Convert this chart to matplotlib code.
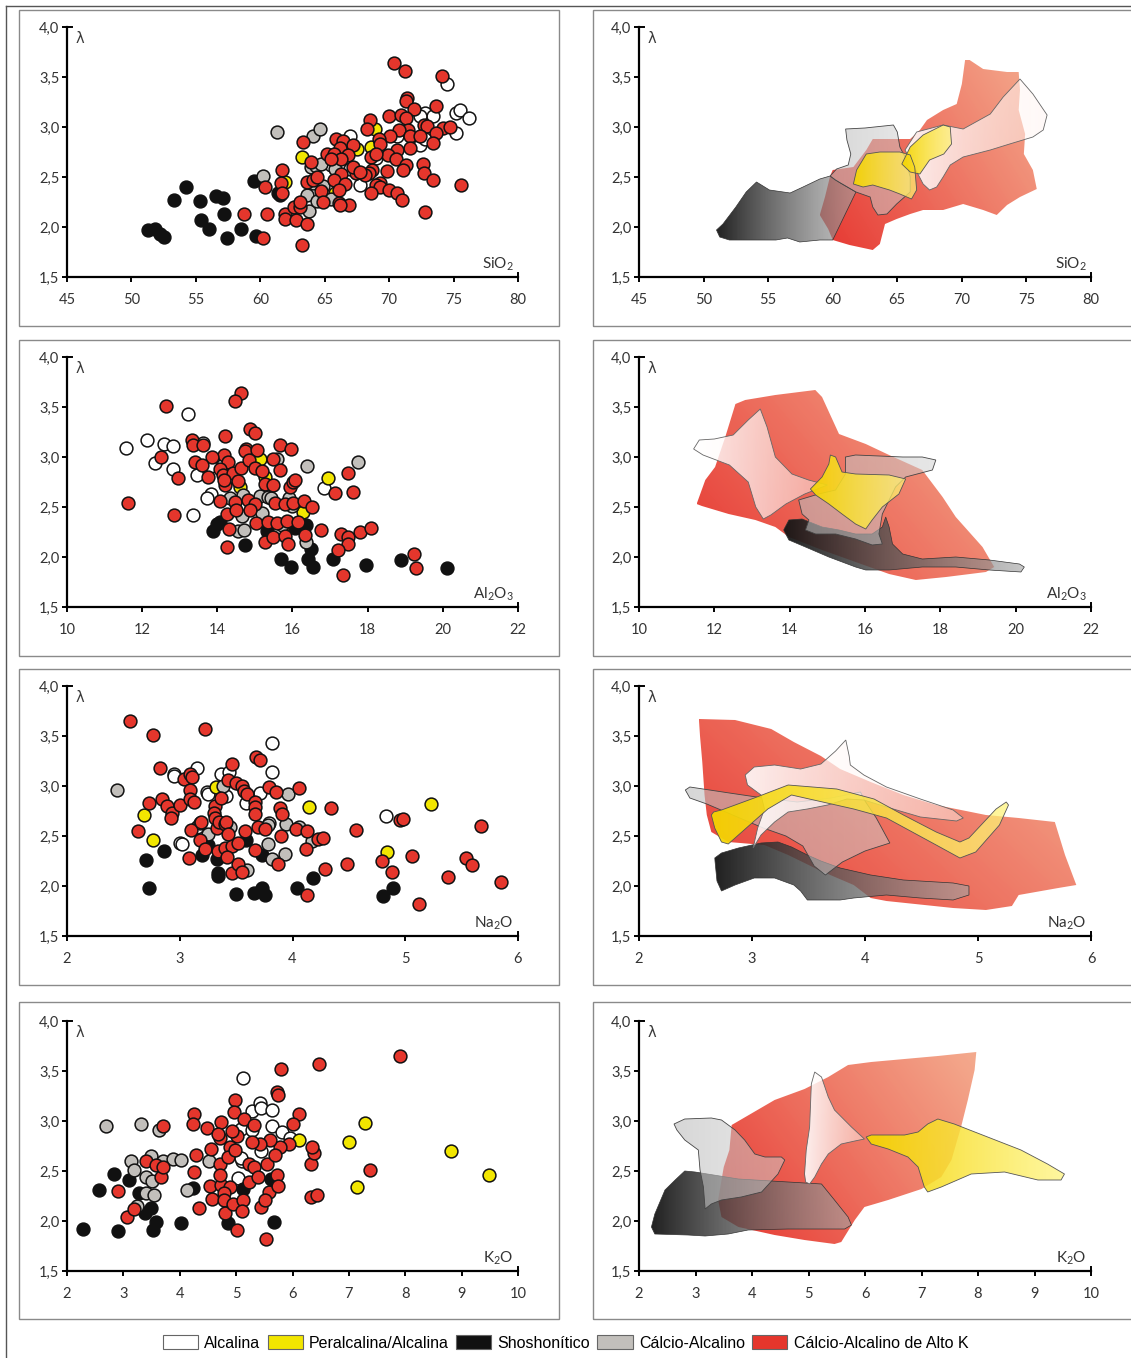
import matplotlib
matplotlib.use("Agg")
import matplotlib.pyplot as plt
import numpy as np
from matplotlib.patches import Polygon, Rectangle, Patch
from matplotlib.lines import Line2D
from matplotlib.colors import to_rgb

plt.rcParams['font.family'] = ['Lato', 'DejaVu Sans']
plt.rcParams['mathtext.default'] = 'regular'

# ---------------- scatter data (x, lambda) ----------------
# SiO2
sio2_alc = [(65.5,2.62),(67.0,2.91),(67.0,2.58),(67.7,2.42),(69.0,2.69),(70.6,2.91),(72.4,2.82),(72.8,3.14),
            (73.4,3.11),(72.8,2.88),(74.5,3.43),(75.2,2.94),(75.2,3.14),(75.5,3.17),(76.2,3.09),(72.4,3.11)]
sio2_per = [(63.2,2.70),(61.9,2.45),(65.8,2.34),(67.5,2.78),(68.6,2.80),(68.9,2.98)]
sio2_sho = [(51.3,1.97),(51.85,1.98),(52.2,1.93),(52.5,1.90),(53.3,2.27),(54.2,2.40),(55.3,2.26),(55.4,2.07),
            (56.0,1.98),(56.6,2.31),(57.1,2.29),(57.2,2.13),(57.4,1.89),(58.5,1.98),(59.5,2.46),(59.7,1.91),
            (61.4,2.34),(61.5,2.32)]
sio2_cal = [(61.3,2.95),(60.2,2.51),(64.1,2.91),(64.6,2.98),(63.9,2.60),(64.3,2.61),(64.1,2.44),(64.7,2.63),
            (64.9,2.41),(63.6,2.32),(63.8,2.16),(64.4,2.26),(65.5,2.28),(65.8,2.58)]
sio2_ak = [(70.4,3.64),(71.2,3.56),(74.1,3.51),(71.4,3.29),(71.3,3.26),(71.9,3.18),(73.6,3.21),(70.0,3.11),
           (70.9,3.12),(68.5,3.07),(71.3,3.09),(72.7,3.02),(72.9,3.01),(74.2,2.99),(74.7,3.00),(71.5,2.97),
           (70.8,2.97),(71.6,2.91),(72.4,2.91),(73.6,2.94),(70.1,2.91),(69.2,2.88),(69.3,2.83),(73.4,2.84),
           (71.6,2.79),(70.6,2.77),(69.9,2.72),(70.5,2.68),(68.3,2.98),(65.9,2.88),(66.4,2.86),(67.2,2.82),
           (66.2,2.79),(66.8,2.72),(65.2,2.73),(65.7,2.73),(66.3,2.68),(68.6,2.70),(69.0,2.73),(72.6,2.63),
           (71.3,2.62),(71.1,2.57),(69.8,2.56),(68.7,2.57),(68.4,2.54),(68.1,2.52),(67.4,2.54),(66.3,2.53),
           (72.7,2.54),(73.4,2.47),(75.6,2.42),(69.3,2.44),(69.0,2.42),(69.3,2.40),(68.6,2.34),(70.0,2.37),
           (70.6,2.34),(71.0,2.27),(72.8,2.15),(65.7,2.47),(66.6,2.43),(66.1,2.37),(66.1,2.24),(66.9,2.22),
           (64.7,2.36),(63.6,2.45),(64.1,2.47),(64.4,2.50),(63.9,2.65),(63.3,2.85),(61.7,2.57),(60.4,2.40),
           (61.6,2.44),(61.7,2.34),(60.5,2.13),(61.9,2.13),(61.9,2.08),(62.6,2.20),(63.1,2.20),(62.8,2.07),
           (63.6,2.03),(63.1,2.25),(63.2,1.82),(60.2,1.89),(58.7,2.13),(64.9,2.25),(66.2,2.22),(67.2,2.60),
           (67.7,2.55),(65.5,2.68)]

# Al2O3
al_alc = [(11.56,3.09),(12.12,3.17),(12.57,3.13),(12.81,3.11),(12.35,2.94),(12.83,2.88),(13.23,3.43),
          (13.61,3.14),(13.45,2.82),(13.35,2.42),(13.82,2.91),(14.14,2.92),(13.82,2.63),(13.72,2.59),(16.84,2.69)]
al_per = [(14.60,2.70),(15.13,2.98),(15.28,2.80),(16.27,2.45),(15.93,2.33),(16.95,2.79)]
al_sho = [(13.88,2.26),(14.0,2.33),(14.07,2.35),(14.73,2.12),(15.31,2.26),(15.69,1.98),(15.97,1.90),
          (16.06,2.29),(16.37,2.32),(16.42,1.98),(16.50,2.08),(16.55,1.90),(17.08,1.98),(17.96,1.92),
          (18.88,1.97),(20.12,1.89)]
al_cal = [(14.34,2.59),(14.65,2.41),(14.69,2.62),(14.56,2.26),(14.71,2.27),(15.13,2.61),(15.34,2.60),
          (15.44,2.59),(15.20,2.44),(15.58,2.98),(15.71,2.32),(15.91,2.59),(16.0,2.51),(16.39,2.91),
          (16.35,2.15),(17.73,2.95)]
al_ak = [(12.63,3.51),(14.62,3.64),(14.47,3.56),(14.87,3.28),(15.0,3.24),(13.32,3.17),(13.35,3.12),(13.61,3.12),
         (14.2,3.21),(15.68,3.12),(15.95,3.08),(12.49,3.0),(14.76,3.08),(14.73,3.06),(15.06,3.07),(14.19,3.02),
         (13.85,3.0),(14.29,2.95),(13.41,2.95),(13.58,2.92),(12.96,2.79),(13.74,2.80),(14.07,2.88),(14.16,2.82),
         (14.42,2.84),(14.62,2.89),(14.85,2.97),(15.0,2.89),(15.2,2.86),(15.66,2.87),(15.49,2.98),(15.27,2.73),
         (15.49,2.72),(14.56,2.76),(14.2,2.72),(14.18,2.77),(15.93,2.70),(16.02,2.75),(16.06,2.77),(17.12,2.64),
         (17.47,2.84),(17.61,2.65),(14.07,2.56),(14.47,2.55),(14.82,2.57),(15.0,2.53),(15.53,2.54),(15.81,2.53),
         (16.02,2.54),(16.31,2.56),(16.53,2.50),(14.27,2.43),(14.5,2.47),(14.87,2.47),(15.04,2.34),(15.35,2.35),
         (15.58,2.34),(15.86,2.36),(16.15,2.35),(14.3,2.28),(15.27,2.15),(15.49,2.20),(15.8,2.21),(15.88,2.13),
         (16.33,2.22),(14.27,2.10),(16.77,2.27),(17.3,2.23),(17.47,2.20),(17.47,2.13),(17.21,2.07),(17.79,2.25),
         (18.08,2.29),(19.23,2.03),(19.29,1.89),(17.35,1.82),(11.62,2.54),(12.85,2.42)]

# Na2O
na_alc = [(3.15,3.18),(2.95,3.12),(2.95,3.10),(3.24,2.94),(3.25,2.92),(3.37,3.12),(3.44,3.14),(3.41,2.90),
          (3.59,2.83),(3.71,2.93),(3.82,3.43),(3.82,3.14),(3.15,2.59),(3.18,2.63),(3.0,2.43),(3.02,2.42),
          (3.79,2.63),(4.83,2.70)]
na_per = [(2.68,2.71),(2.76,2.46),(3.32,2.99),(4.15,2.79),(4.84,2.34),(5.23,2.82)]
na_sho = [(2.7,2.26),(2.73,1.98),(2.86,2.35),(3.2,2.31),(3.25,2.41),(3.33,2.27),(3.34,2.13),(3.34,2.10),
          (3.5,1.92),(3.59,2.46),(3.73,2.31),(3.66,1.93),(3.73,1.98),(3.76,1.91),(4.04,1.98),(4.18,2.08),
          (4.8,1.90),(4.89,1.98)]
na_cal = [(2.44,2.96),(3.25,2.52),(3.38,3.0),(3.45,2.59),(3.6,2.16),(3.78,2.61),(3.78,2.42),(3.82,2.27),
          (3.93,2.32),(3.94,2.62),(3.96,2.92),(4.06,2.59),(4.17,2.45)]
na_ak = [(2.557,3.65),(2.762,3.51),(3.223,3.57),(2.827,3.18),(2.63,2.55),(2.724,2.83),(2.84,2.87),(2.886,2.80),
         (2.93,2.73),(2.924,2.68),(3.0,2.81),(3.04,3.07),(3.09,3.12),(3.11,3.09),(3.09,2.96),(3.09,2.87),
         (3.13,2.84),(3.1,2.56),(3.08,2.28),(3.46,3.22),(3.43,3.06),(3.5,3.03),(3.55,3.0),(3.57,2.95),(3.6,2.92),
         (3.68,3.29),(3.71,3.26),(3.79,2.99),(3.85,2.94),(4.06,2.98),(3.67,2.84),(3.67,2.79),(3.67,2.72),
         (3.31,2.80),(3.3,2.73),(3.31,2.68),(3.33,2.58),(3.35,2.64),(3.4,2.62),(3.37,2.88),(3.41,2.64),
         (3.19,2.64),(3.18,2.46),(3.22,2.37),(3.34,2.35),(3.4,2.38),(3.46,2.40),(3.43,2.52),(3.52,2.43),
         (3.58,2.55),(3.69,2.59),(3.76,2.57),(3.89,2.78),(3.91,2.72),(3.9,2.50),(3.67,2.36),(3.87,2.22),
         (3.46,2.13),(3.52,2.22),(3.55,2.14),(3.42,2.29),(4.03,2.57),(4.13,2.55),(4.12,2.37),(4.23,2.47),
         (4.27,2.48),(4.34,2.78),(4.29,2.17),(4.48,2.22),(4.56,2.56),(4.13,1.91),(4.79,2.25),(4.88,2.14),
         (4.95,2.66),(4.98,2.67),(5.06,2.30),(5.12,1.82),(5.38,2.09),(5.54,2.28),(5.59,2.21),(5.67,2.60),(5.85,2.04)]

# K2O
k_alc = [(5.12,3.43),(5.29,3.10),(5.43,3.18),(5.45,3.13),(5.63,3.11),(5.09,2.92),(5.28,2.91),(5.63,2.95),
         (5.81,2.89),(5.96,2.83),(5.1,2.60),(5.09,2.63),(5.44,2.70),(5.03,2.43)]
k_per = [(6.12,2.81),(7.0,2.79),(7.28,2.98),(7.15,2.34),(8.82,2.70),(9.49,2.46)]
k_sho = [(2.28,1.92),(2.57,2.31),(2.84,2.47),(2.9,1.90),(3.1,2.41),(3.27,2.28),(3.38,2.08),(3.49,2.13),
         (3.52,1.91),(3.58,1.99),(4.02,1.98),(4.23,2.33),(4.86,1.98),(5.13,2.32),(5.67,1.99),(5.61,2.42)]
k_cal = [(2.7,2.95),(3.31,2.97),(3.64,2.91),(3.14,2.60),(3.18,2.51),(3.25,2.15),(3.4,2.44),(3.49,2.65),
         (3.5,2.40),(3.4,2.28),(3.55,2.26),(3.71,2.60),(3.88,2.62),(4.02,2.61),(4.13,2.31),(4.52,2.60)]
k_ak = [(3.71,2.95),(4.26,3.07),(4.24,2.97),(4.48,2.93),(4.74,2.99),(4.98,3.21),(4.97,3.09),(5.14,3.02),
        (5.31,2.96),(5.72,3.29),(5.75,3.26),(5.8,3.52),(6.47,3.57),(7.9,3.65),(6.12,3.07),(6.0,2.97),
        (5.93,2.77),(5.78,2.74),(5.6,2.81),(5.42,2.77),(5.29,2.79),(5.01,2.85),(4.92,2.90),(4.72,2.83),
        (4.67,2.87),(4.89,2.74),(4.55,2.72),(4.29,2.66),(4.72,2.57),(4.86,2.64),(4.98,2.71),(5.22,2.57),
        (5.31,2.54),(5.54,2.57),(5.69,2.66),(5.72,2.46),(4.26,2.49),(4.54,2.35),(4.57,2.22),(4.74,2.36),
        (4.72,2.46),(4.89,2.34),(4.79,2.28),(4.79,2.21),(4.8,2.08),(4.95,2.17),(5.12,2.21),(5.1,2.10),
        (5.23,2.39),(5.39,2.44),(5.45,2.14),(5.59,2.29),(5.51,2.21),(5.75,2.35),(5.53,1.82),(5.01,1.91),
        (4.35,2.13),(6.32,2.24),(6.43,2.26),(6.32,2.57),(6.38,2.68),(6.34,2.74),(7.38,2.51),(2.91,2.30),
        (3.07,2.04),(3.18,2.12),(3.4,2.60),(3.58,2.56),(3.67,2.44),(3.71,2.54)]

# ---------------- field polygons (x, lambda) ----------------
sio2_f_ak = [(59.8,2.51),(59.4,2.3),(59.0,2.12),(59.65,1.98),(60.0,1.87),(61.3,1.82),(63.1,1.77),(63.65,1.83),
             (64.05,2.03),(64.95,2.08),(66.0,2.13),(67.0,2.17),(68.55,2.17),(70.1,2.23),(71.65,2.17),(72.7,2.12),
             (73.5,2.22),(74.5,2.3),(75.8,2.38),(75.5,2.57),(74.8,2.73),(74.9,2.93),(74.4,3.17),(74.5,3.37),
             (74.4,3.55),(73.5,3.55),(71.65,3.58),(70.6,3.67),(70.25,3.67),(70.0,3.43),(69.6,3.23),(68.55,3.17),
             (67.3,3.07),(66.75,2.97),(66.0,2.88),(65.2,2.88),(63.9,2.88),(63.1,2.88),(62.6,2.77),(61.6,2.6),(60.0,2.57)]
sio2_f_sho = [(51.0,1.97),(51.5,2.03),(52.5,2.2),(53.3,2.35),(54.1,2.45),(55.1,2.37),(56.7,2.34),(57.7,2.4),
              (59.0,2.48),(59.8,2.51),(60.6,2.44),(61.8,2.35),(60.0,1.87),(59.0,1.87),(57.45,1.85),(56.5,1.89),
              (55.6,1.87),(53.6,1.87),(52.0,1.87),(51.25,1.9)]
sio2_f_cal = [(61.0,2.98),(62.5,2.99),(64.7,3.02),(65.0,2.95),(65.2,2.8),(65.6,2.7),(66.0,2.5),(66.0,2.35),
              (64.95,2.23),(64.2,2.13),(63.5,2.12),(63.1,2.2),(62.9,2.3),(61.8,2.35),(60.2,2.47),(59.8,2.51),
              (60.3,2.58),(61.2,2.62),(61.4,2.73),(61.1,2.87)]
sio2_f_alc = [(65.6,2.77),(66.5,2.95),(68.55,3.02),(70.1,2.98),(72.2,3.13),(73.2,3.3),(74.5,3.48),(75.5,3.33),
              (76.6,3.12),(76.3,2.97),(75.5,2.9),(73.7,2.83),(72.2,2.77),(70.1,2.7),(69.1,2.62),(68.55,2.5),
              (68.05,2.4),(67.5,2.37),(67.0,2.43),(66.6,2.53)]
sio2_f_per1 = [(61.6,2.43),(61.85,2.57),(62.6,2.73),(63.65,2.75),(65.2,2.75),(66.0,2.72),(66.35,2.6),(66.5,2.37),
               (66.1,2.28),(65.2,2.33),(64.4,2.37),(63.1,2.42),(62.35,2.4)]
sio2_f_per2 = [(65.35,2.63),(66.0,2.8),(67.0,2.92),(68.55,3.02),(69.1,3.0),(69.2,2.83),(68.6,2.73),(67.5,2.67),
               (66.75,2.53),(66.0,2.55)]

al_f_ak = [(11.53,2.53),(11.76,2.77),(12.02,2.9),(12.29,3.2),(12.56,3.53),(12.82,3.57),(13.62,3.62),(14.68,3.67),
           (14.86,3.6),(15.31,3.23),(16.02,3.13),(16.64,3.02),(17.52,2.87),(18.06,2.6),(18.41,2.4),(19.12,2.1),
           (19.43,1.9),(19.21,1.85),(18.15,1.8),(17.35,1.77),(16.64,1.83),(15.75,1.95),(14.86,2.07),(13.98,2.2),
           (13.62,2.3),(13.09,2.37),(12.38,2.43),(11.67,2.51)]
al_f_sho = [(13.84,2.27),(13.98,2.37),(14.33,2.38),(14.86,2.3),(15.31,2.27),(15.75,2.23),(16.19,2.23),(16.46,2.3),
            (16.55,2.4),(16.64,2.3),(16.73,2.13),(17.0,2.03),(17.52,1.98),(18.41,2.0),(19.3,1.97),(20.1,1.93),
            (20.23,1.9),(20.14,1.85),(19.3,1.87),(18.41,1.9),(17.52,1.9),(16.64,1.87),(16.02,1.87),(15.75,1.9),
            (15.04,2.0),(14.42,2.1),(13.98,2.17)]
al_f_cal = [(15.48,3.0),(15.75,3.02),(17.0,3.0),(17.52,3.0),(17.88,2.97),(17.79,2.87),(17.08,2.8),(16.81,2.7),
            (16.46,2.43),(16.37,2.23),(16.46,2.13),(16.19,2.12),(15.75,2.18),(15.22,2.23),(14.69,2.23),(14.42,2.27),
            (14.51,2.37),(14.33,2.43),(14.24,2.57),(14.77,2.63),(15.22,2.67),(15.48,2.83)]
al_f_alc = [(11.45,3.08),(11.6,3.17),(12.0,3.18),(12.5,3.22),(12.9,3.37),(13.22,3.48),(13.4,3.3),(13.62,3.0),
            (14.06,2.83),(14.5,2.77),(15.0,2.72),(14.4,2.63),(13.9,2.53),(13.5,2.42),(13.3,2.38),(13.1,2.5),
            (12.9,2.75),(12.4,2.92),(11.7,3.02)]
al_f_per = [(14.55,2.68),(14.86,2.8),(15.04,2.93),(15.08,3.02),(15.22,3.0),(15.39,2.85),(15.75,2.83),(16.64,2.82),
            (17.08,2.78),(16.9,2.63),(16.46,2.5),(16.19,2.37),(16.02,2.28),(15.75,2.33),(15.39,2.43),(15.04,2.53),
            (14.69,2.62)]

na_f_ak = [(2.53,3.67),(2.85,3.66),(3.17,3.57),(3.37,3.44),(3.61,3.3),(3.78,3.17),(4.05,3.04),(4.34,2.91),
           (4.63,2.81),(5.07,2.71),(5.36,2.68),(5.68,2.64),(5.77,2.31),(5.87,2.01),(5.71,1.98),(5.36,1.91),
           (5.3,1.8),(5.07,1.76),(4.78,1.78),(4.19,1.85),(4.05,1.88),(3.9,2.01),(3.61,2.15),(3.32,2.31),
           (3.11,2.41),(2.79,2.44),(2.64,2.54),(2.6,2.71),(2.58,2.91),(2.56,3.24),(2.54,3.5)]
na_f_sho = [(2.67,2.28),(2.73,2.33),(2.88,2.38),(3.08,2.43),(3.23,2.44),(3.35,2.39),(3.49,2.31),(3.61,2.25),
            (3.78,2.18),(4.05,2.11),(4.34,2.06),(4.78,2.03),(4.92,2.0),(4.92,1.91),(4.78,1.86),(4.49,1.88),
            (4.19,1.91),(3.9,1.88),(3.78,1.86),(3.49,1.86),(3.43,1.95),(3.37,2.01),(3.2,2.08),(3.02,2.08),
            (2.85,2.01),(2.73,1.95),(2.69,2.05)]
na_f_cal = [(2.41,2.96),(2.45,2.99),(2.8,2.93),(3.1,2.88),(3.4,2.84),(3.7,2.88),(3.96,2.94),(4.0,2.85),(4.1,2.68),
            (4.22,2.43),(4.0,2.35),(3.8,2.24),(3.65,2.11),(3.55,2.2),(3.45,2.4),(3.3,2.5),(3.1,2.58),(2.85,2.7),
            (2.6,2.82),(2.45,2.88)]
na_f_alc = [(2.94,3.11),(3.02,3.19),(3.2,3.21),(3.43,3.17),(3.61,3.22),(3.74,3.35),(3.83,3.46),(3.86,3.3),
            (3.87,3.21),(3.99,3.11),(4.19,2.99),(4.49,2.87),(4.78,2.76),(4.87,2.68),(4.81,2.65),(4.49,2.69),
            (4.19,2.79),(3.99,2.86),(3.84,2.87),(3.67,2.81),(3.49,2.77),(3.32,2.74),(3.2,2.64),(3.08,2.51),
            (3.01,2.38),(3.05,2.58),(3.11,2.77),(3.08,2.91),(2.96,3.01)]
na_f_per = [(2.66,2.74),(2.73,2.76),(3.02,2.88),(3.32,3.01),(3.75,2.97),(4.08,2.87),(4.34,2.71),(4.63,2.54),
            (4.84,2.44),(4.92,2.48),(5.16,2.77),(5.25,2.84),(5.27,2.81),(5.19,2.61),(4.98,2.34),(4.84,2.28),
            (4.63,2.41),(4.19,2.68),(3.9,2.77),(3.35,2.91),(3.14,2.77),(2.88,2.51),(2.79,2.42),(2.73,2.44),
            (2.67,2.58),(2.64,2.71)]

k_f_ak = [(3.64,2.96),(4.4,3.21),(4.93,3.32),(5.35,3.44),(5.7,3.56),(6.11,3.59),(6.7,3.62),(7.29,3.65),(7.97,3.69),
          (7.94,3.51),(7.82,3.21),(7.7,2.94),(7.53,2.61),(7.35,2.44),(7.0,2.32),(6.41,2.21),(5.99,2.14),(5.82,2.01),
          (5.58,1.79),(5.46,1.77),(4.93,1.81),(4.4,1.86),(3.76,1.94),(3.46,2.04),(3.4,2.21),(3.5,2.54),(3.6,2.71)]
k_f_sho = [(2.22,1.94),(2.28,2.07),(2.46,2.31),(2.64,2.41),(2.81,2.5),(2.99,2.49),(3.76,2.42),(4.64,2.39),
           (5.23,2.37),(5.46,2.21),(5.7,2.04),(5.76,1.96),(5.64,1.92),(4.64,1.92),(3.93,1.91),(3.58,1.87),
           (3.17,1.85),(2.87,1.86),(2.28,1.87)]
k_f_cal = [(2.62,2.97),(2.81,3.02),(3.28,3.03),(3.46,3.01),(3.7,2.91),(3.87,2.81),(4.05,2.67),(4.23,2.64),
           (4.52,2.64),(4.58,2.61),(4.46,2.47),(4.17,2.29),(3.81,2.24),(3.46,2.21),(3.28,2.17),(3.17,2.12),
           (3.14,2.34),(3.08,2.51),(3.05,2.71),(2.81,2.81),(2.67,2.91)]
k_f_alc = [(4.93,2.47),(4.96,2.71),(5.02,2.94),(5.05,3.37),(5.11,3.49),(5.23,3.44),(5.35,3.24),(5.46,3.11),
           (5.76,2.94),(5.99,2.82),(5.82,2.8),(5.58,2.77),(5.35,2.67),(5.23,2.57),(5.11,2.44),(5.02,2.37),(4.95,2.39)]
k_f_per = [(6.02,2.84),(6.11,2.86),(6.7,2.86),(6.94,2.89),(7.11,2.97),(7.29,3.02),(7.58,2.97),(8.17,2.84),
           (8.76,2.71),(9.23,2.57),(9.53,2.47),(9.47,2.41),(9.06,2.41),(8.47,2.49),(7.88,2.47),(7.35,2.34),
           (7.11,2.29),(7.05,2.34),(6.94,2.54),(6.76,2.64),(6.41,2.72),(6.11,2.77)]

labels = ["Alcalina", "Peralcalina/Alcalina", "Shoshonítico", "Cálcio-Alcalino", "Cálcio-Alcalino de Alto K"]
colors = ["#ffffff", "#f2e600", "#111111", "#c2bfbb", "#e5362c"]
ytick_vals = [1.5, 2.0, 2.5, 3.0, 3.5, 4.0]
ytick_lab = ["1,5", "2,0", "2,5", "3,0", "3,5", "4,0"]

panels = [
    dict(name="SiO$_2$", xlim=(45, 80), xt=[45, 50, 55, 60, 65, 70, 75, 80],
         pts=[sio2_alc, sio2_per, sio2_sho, sio2_cal, sio2_ak],
         f_ak=[sio2_f_ak], f_sho=[sio2_f_sho], f_cal=[sio2_f_cal], f_alc=[sio2_f_alc], f_per=[sio2_f_per1, sio2_f_per2]),
    dict(name="Al$_2$O$_3$", xlim=(10, 22), xt=[10, 12, 14, 16, 18, 20, 22],
         pts=[al_alc, al_per, al_sho, al_cal, al_ak],
         f_ak=[al_f_ak], f_sho=[al_f_sho], f_cal=[al_f_cal], f_alc=[al_f_alc], f_per=[al_f_per]),
    dict(name="Na$_2$O", xlim=(2, 6), xt=[2, 3, 4, 5, 6],
         pts=[na_alc, na_per, na_sho, na_cal, na_ak],
         f_ak=[na_f_ak], f_sho=[na_f_sho], f_cal=[na_f_cal], f_alc=[na_f_alc], f_per=[na_f_per]),
    dict(name="K$_2$O", xlim=(2, 10), xt=[2, 3, 4, 5, 6, 7, 8, 9, 10],
         pts=[k_alc, k_per, k_sho, k_cal, k_ak],
         f_ak=[k_f_ak], f_sho=[k_f_sho], f_cal=[k_f_cal], f_alc=[k_f_alc], f_per=[k_f_per]),
]


def grad_fill(ax, pts, c0, c1, a0, a1, ec, z, wy=0.0, lw=0.7):
    pts = np.array(pts)
    poly = Polygon(pts, closed=True, fc='none', ec=ec, lw=lw, zorder=z + 0.5)
    ax.add_patch(poly)
    x0, x1 = pts[:, 0].min(), pts[:, 0].max()
    y0, y1 = pts[:, 1].min(), pts[:, 1].max()
    u = np.linspace(0, 1, 200)[None, :]
    v = np.linspace(0, 1, 60)[:, None]
    t = np.clip((1 - wy) * u + wy * v, 0, 1)
    r0, r1 = np.array(to_rgb(c0)), np.array(to_rgb(c1))
    img = np.zeros((60, 200, 4))
    img[..., :3] = r0 + (r1 - r0) * t[..., None]
    img[..., 3] = a0 + (a1 - a0) * t
    im = ax.imshow(img, extent=(x0, x1, y0, y1), origin='lower', aspect='auto',
                   interpolation='bilinear', zorder=z)
    im.set_clip_path(poly)


def style_axes(ax, p):
    ax.set_xlim(*p["xlim"])
    ax.set_ylim(1.5, 4.0)
    ax.spines[['top', 'right']].set_visible(False)
    ax.spines[['left', 'bottom']].set_linewidth(1.6)
    ax.set_xticks(p["xt"])
    ax.set_xticklabels([str(v) for v in p["xt"]])
    ax.set_yticks(ytick_vals)
    ax.set_yticklabels(ytick_lab)
    ax.tick_params(axis='both', direction='out', length=3.5, width=1.4, labelsize=10.5, labelcolor='#333333')
    ax.tick_params(axis='x', pad=8)
    ax.tick_params(axis='y', pad=2)
    ax.patch.set_alpha(0)
    # end ticks pointing inward (Excel style)
    ax.plot([0, 0.012], [1, 1], transform=ax.transAxes, color='k', lw=1.4, clip_on=False)
    ax.plot([1, 1], [0, 0.018], transform=ax.transAxes, color='k', lw=1.4, clip_on=False)
    ax.text(0.02, 0.955, "λ", transform=ax.transAxes, ha='left', va='center', fontsize=10.5,
            color='#3a3a3a', family=['DejaVu Sans'])
    ax.text(0.99, 0.05, p["name"], transform=ax.transAxes, ha='right', va='center', fontsize=11,
            color='#333333')


W, H = 1131, 1358
fig = plt.figure(figsize=(W / 100, H / 100), dpi=100)

# outer border lines
fig.add_artist(Line2D([6 / W, 6 / W], [0, 1 - 6 / H], color='#555555', lw=1.0))
fig.add_artist(Line2D([6 / W, 1], [1 - 6 / H, 1 - 6 / H], color='#555555', lw=1.0))

frames = [(10, 326), (340, 656), (669, 985), (1002, 1319)]
ax_tops = [27, 357, 686, 1021]

for i, p in enumerate(panels):
    ft, fb = frames[i]
    for fx0, fx1 in [(19, 559), (593, 1137)]:
        fig.add_artist(Rectangle((fx0 / W, 1 - fb / H), (fx1 - fx0) / W, (fb - ft) / H,
                                 fill=False, ec='#8a8a8a', lw=1.0, transform=fig.transFigure))
    top = ax_tops[i]
    bottom = 1 - (top + 250) / H
    axl = fig.add_axes([67 / W, bottom, 451 / W, 250 / H])
    axr = fig.add_axes([639 / W, bottom, 452 / W, 250 / H])

    # left: scatter
    for order in [2, 3, 4, 0, 1]:
        arr = np.array(p["pts"][order])
        axl.scatter(arr[:, 0], arr[:, 1], s=85, c=colors[order], edgecolors='#111111',
                    linewidths=1.1, zorder=3 + order * 0.1)
    style_axes(axl, p)

    # right: fields
    for pts in p["f_ak"]:
        grad_fill(axr, pts, '#e6302a', '#f3a384', 0.97, 0.92, 'none', 1, wy=0.35)
    for pts in p["f_sho"]:
        grad_fill(axr, pts, '#141414', '#a5a5a5', 0.95, 0.62, '#333333', 2, lw=0.5)
    for pts in p["f_cal"]:
        grad_fill(axr, pts, '#bdbdbd', '#cfcfcf', 0.6, 0.5, '#444444', 3, lw=0.6)
    for pts in p["f_alc"]:
        grad_fill(axr, pts, '#ffffff', '#fff4f0', 0.9, 0.45, '#666666', 4, lw=0.6)
    for pts in p["f_per"]:
        grad_fill(axr, pts, '#f4d400', '#fff47a', 0.95, 0.72, '#555555', 5, lw=0.6)
    style_axes(axr, p)

handles = [Patch(facecolor=c, edgecolor='#666666', lw=0.8) for c in colors]
fig.legend(handles, labels, loc='center', bbox_to_anchor=(0.5, 1 - 1343 / H), ncol=5, frameon=False,
           handlelength=2.2, handleheight=1.0, handletextpad=0.4, columnspacing=0.45,
           prop={'family': ['Liberation Sans'], 'size': 11.5})

fig.savefig("out.png", dpi=100)
